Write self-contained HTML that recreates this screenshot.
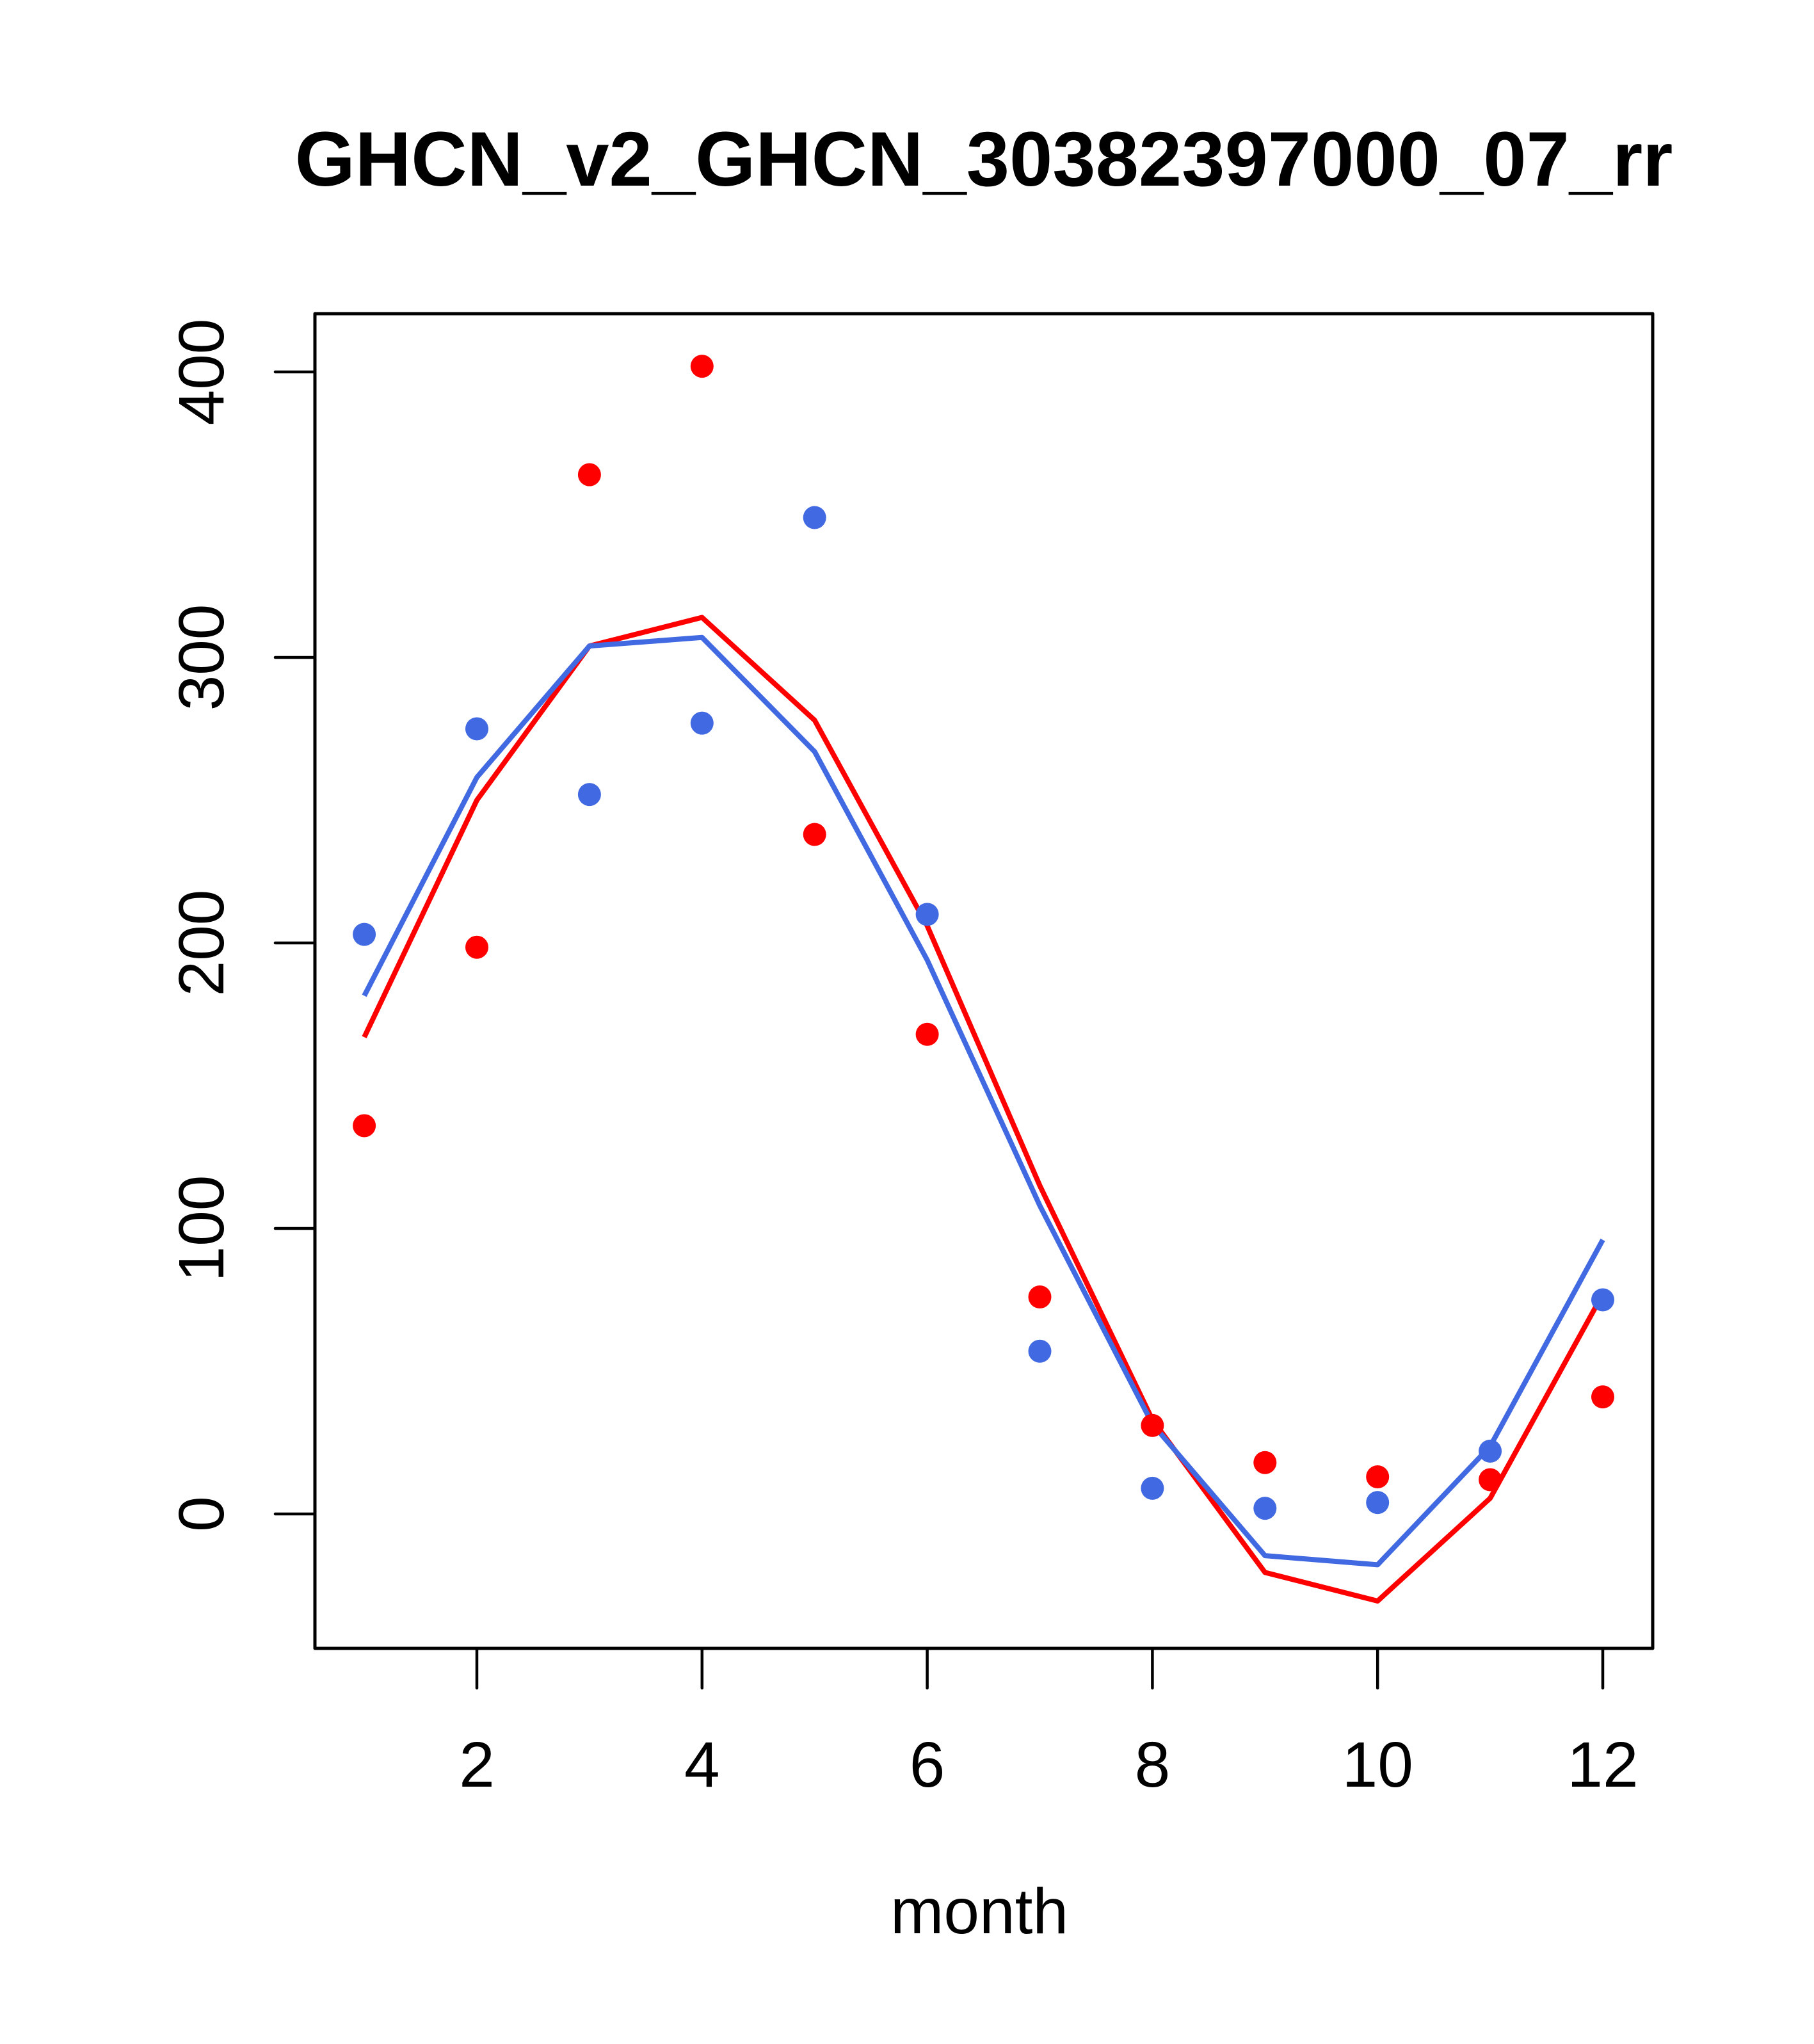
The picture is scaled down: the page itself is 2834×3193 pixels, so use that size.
<!DOCTYPE html>
<html><head><meta charset="utf-8"><style>
body{margin:0;background:#fff}
svg text{font-family:"Liberation Sans",Arial,sans-serif}
</style></head><body>
<svg id="chart" width="2834" height="3188" viewBox="0 0 2834 3188" xmlns="http://www.w3.org/2000/svg">
<rect width="2834" height="3188" fill="#fff"/>
<text x="1537" y="290" font-size="121" font-weight="bold" text-anchor="middle">GHCN_v2_GHCN_30382397000_07_rr</text>
<g id="plot"></g>
<text x="1530" y="3020" font-size="100" text-anchor="middle">month</text>
</svg>
<script>
const months=[1,2,3,4,5,6,7,8,9,10,11,12];
const redPoints=[136,198.5,364,402,238,168,76,31,18,13,12,41];
const bluePoints=[203,275,252,277,349,210,57,9,2,4,22,75];
const redLine=[167,250,304,314,278,206,115,33,-20.5,-30.5,5.5,77];
const blueLine=[181.5,258,304,307,267,194,108,31.5,-14.6,-17.8,23.7,96];
const xTicks=[2,4,6,8,10,12];
const yTicks=[0,100,200,300,400];

const NS="http://www.w3.org/2000/svg";
const g=document.getElementById('plot');
const L=492,R=2582,T=490,B=2575;
const xs=m=>745+(m-2)*175.9;
const ys=v=>2365-v*4.46;
function mk(t,a){const e=document.createElementNS(NS,t);for(const k in a)e.setAttribute(k,a[k]);g.appendChild(e);return e;}

xTicks.forEach(t=>{
  const l=mk('line',{x1:xs(t),x2:xs(t),y1:B,y2:B+62,stroke:'#000','stroke-width':4.5,'stroke-linecap':'round'});
  
  
  const tx=mk('text',{x:xs(t),y:2791,'font-size':100,'text-anchor':'middle'});
  tx.textContent=t;
  
  
});
yTicks.forEach(t=>{
  const l=mk('line',{x1:L,x2:L-62,y1:ys(t),y2:ys(t),stroke:'#000','stroke-width':4.5,'stroke-linecap':'round'});
  
  
  const tx=mk('text',{x:0,y:0,'font-size':100,'text-anchor':'middle',transform:`translate(349,${ys(t)}) rotate(-90)`});
  tx.textContent=t;
  
  
});

function line(vals,col,name){
  const p=mk('polyline',{points:months.map((m,i)=>xs(m)+','+ys(vals[i])).join(' '),fill:'none',stroke:col,'stroke-width':8,'stroke-linejoin':'round'});
  
  
}
function pts(vals,col,name){
  months.forEach((m,i)=>{
    const c=mk('circle',{cx:xs(m),cy:ys(vals[i]),r:18,fill:col});
    
    
  });
}
line(redLine,'#ff0000','red-fit-line');
line(blueLine,'#4169e1','blue-fit-line');
pts(redPoints,'#ff0000','red-point');
pts(bluePoints,'#4169e1','blue-point');

const box=mk('rect',{x:L,y:T,width:R-L,height:B-T,fill:'none',stroke:'#000','stroke-width':5,'stroke-linejoin':'round'});


</script>
</body></html>
